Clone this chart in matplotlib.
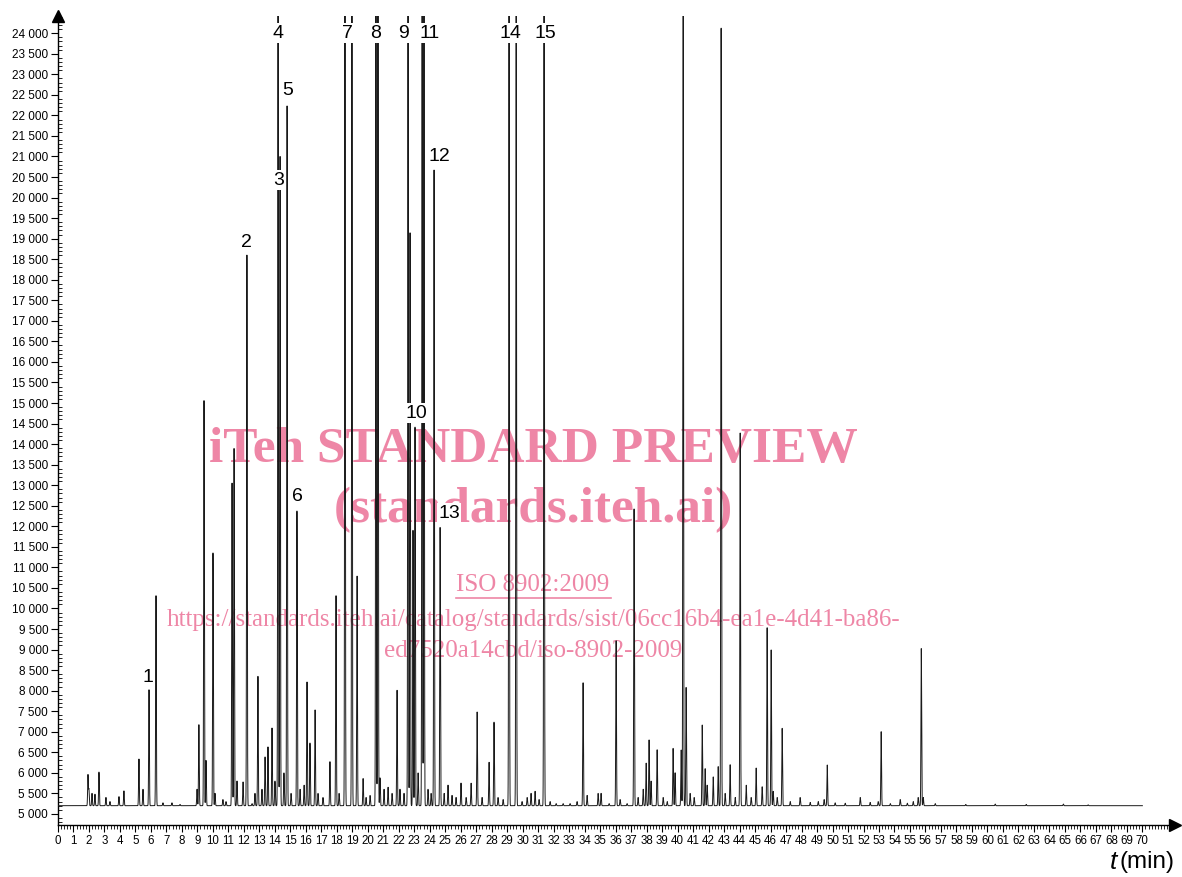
import numpy as np
import matplotlib.pyplot as plt
from matplotlib.ticker import MultipleLocator, FuncFormatter
from matplotlib.lines import Line2D

plt.rcParams['font.family'] = ['Liberation Sans', 'DejaVu Sans']

# ==============================
# Picos leídos del cromatograma: tiempo [min], altura [u.a.]
# ==============================
baseline = 5200
peak_t = [1.94, 2.00, 2.20, 2.39, 2.65, 3.10, 3.36, 3.94, 4.26, 5.23, 5.49, 5.88,
          6.33, 6.78, 7.36, 7.88, 8.98, 9.10, 9.43, 9.56, 10.01, 10.14, 10.65, 10.85,
          11.24, 11.37, 11.56, 11.95, 12.20, 12.53, 12.72, 12.91, 13.17, 13.37, 13.56,
          13.82, 14.01, 14.21, 14.34, 14.59, 14.79, 15.05, 15.43, 15.63, 15.89, 16.08,
          16.27, 16.60, 16.79, 17.11, 17.56, 17.95, 18.15, 18.53, 18.98, 19.31, 19.70,
          19.89, 20.15, 20.53, 20.66, 20.79, 21.05, 21.31, 21.57, 21.89, 22.08, 22.34,
          22.60, 22.73, 22.92, 23.05, 23.25, 23.51, 23.63, 23.89, 24.09, 24.28, 24.67,
          24.93, 25.18, 25.44, 25.70, 26.02, 26.35, 26.67, 27.06, 27.38, 27.83, 28.15,
          28.41, 28.74, 29.12, 29.58, 29.96, 30.29, 30.54, 30.80, 31.06, 31.38, 31.77,
          32.16, 32.61, 33.06, 33.51, 33.90, 34.16, 34.87, 35.06, 35.58, 36.03, 36.29,
          36.74, 37.19, 37.45, 37.78, 37.97, 38.16, 38.29, 38.68, 39.07, 39.33, 39.71,
          39.84, 40.23, 40.36, 40.55, 40.81, 41.07, 41.59, 41.78, 41.91, 42.30, 42.62,
          42.81, 43.07, 43.39, 43.72, 44.04, 44.43, 44.75, 45.07, 45.46, 45.78, 46.04,
          46.17, 46.43, 46.75, 47.27, 47.91, 48.56, 49.08, 49.46, 49.66, 50.17, 50.82,
          51.79, 52.43, 52.95, 53.14, 53.73, 54.37, 54.83, 55.21, 55.53, 55.73, 55.86,
          56.63, 58.60, 60.50, 62.50, 64.90, 66.50]
peak_h = [5950, 5600, 5500, 5480, 6020, 5400, 5300, 5420, 5560, 6340, 5600, 8020,
          10330, 5270, 5270, 5230, 5600, 7170, 15100, 6300, 11375, 5500, 5350, 5300,
          13050, 13930, 5800, 5780, 18600, 5250, 5500, 8360, 5600, 6390, 6630,
          7090, 5800, 26000, 21000, 6000, 22300, 5500, 12400, 5600, 5700, 8210,
          6730, 7530, 5500, 5400, 6270, 10330, 5500, 26000, 26000, 10810, 5860,
          5400, 5450, 26000, 26000, 5880, 5600, 5650, 5500, 8020, 5600, 5500,
          26000, 19200, 11900, 14450, 6000, 26000, 26000, 5600, 5500, 20670, 12000,
          5500, 5700, 5450, 5400, 5750, 5400, 5750, 7480, 5400, 6260, 7240,
          5400, 5350, 26000, 26000, 5300, 5400, 5500, 5550, 5350, 26000, 5300,
          5250, 5250, 5250, 5300, 8190, 5450, 5500, 5500, 5250, 9230, 5350,
          5250, 12450, 5400, 5600, 6240, 6800, 5800, 6560, 5400, 5300, 6600,
          6000, 6560, 26000, 8090, 5500, 5400, 7170, 6100, 5700, 5900, 6150,
          24200, 5500, 6200, 5400, 14270, 5700, 5400, 6120, 5660, 9530, 8990,
          5550, 5400, 7090, 5300, 5400, 5280, 5300, 5350, 6190, 5270, 5260,
          5400, 5280, 5300, 7000, 5250, 5350, 5260, 5300, 5400, 9040, 5400,
          5250, 5230, 5240, 5230, 5240, 5220]

# Etiquetas de los picos numerados (texto, t, altura)
lab_txt = ['1', '2', '3', '4', '5', '6', '7', '8', '9', '10', '11', '12', '13', '14', '15']
lab_t = [5.81, 12.14, 14.27, 14.21, 14.85, 15.43, 18.66, 20.53, 22.28, 23.12,
         24.02, 24.60, 25.25, 29.19, 31.45]
lab_y = [8310, 18917, 20425, 24002, 22615, 12713, 24002, 24002, 24002, 14756,
         24002, 21009, 12323, 24002, 24002]

# ==============================
# Señal
# ==============================
t = np.arange(0, 70.0001, 0.004)
signal = np.full_like(t, baseline, dtype=float)
w = 0.022
for tp, hp in zip(peak_t, peak_h):
    signal += (hp - baseline) * np.exp(-0.5 * ((t - tp) / w) ** 2)

fig = plt.figure(figsize=(11.82, 8.77), dpi=100)
ax = fig.add_axes([0.049, 0.0593, 0.945, 0.9225])

ax.plot(t, signal, color='#1a1a1a', lw=0.7, zorder=3)

ax.set_xlim(0, 72.1)
ax.set_ylim(4730, 24420)

for s in ['top', 'right']:
    ax.spines[s].set_visible(False)
for s in ['left', 'bottom']:
    ax.spines[s].set_linewidth(1.0)

ax.xaxis.set_minor_locator(MultipleLocator(0.2))
ax.yaxis.set_minor_locator(MultipleLocator(100))
ax.set_xticks(np.arange(0, 71, 1))
ax.set_yticks(np.arange(5000, 24001, 500))
ax.yaxis.set_major_formatter(FuncFormatter(lambda v, p: f"{int(v):,}".replace(',', ' ')))
ax.tick_params(axis='x', which='major', direction='out', length=5, width=0.8,
               labelsize=8.3, pad=2)
ax.tick_params(axis='x', which='minor', direction='out', length=3, width=0.6)
ax.tick_params(axis='y', which='major', direction='out', length=5, width=0.8,
               labelsize=8.5, pad=2)
ax.tick_params(axis='y', which='minor', direction='in', length=3, width=0.6)

# flechas de los ejes
ax.plot([1], [0], marker='>', color='k', markersize=9, transform=ax.transAxes, clip_on=False)
ax.plot([0], [1], marker='^', color='k', markersize=9, transform=ax.transAxes, clip_on=False)

for txt, x, y in zip(lab_txt, lab_t, lab_y):
    ax.text(x, y, txt, fontsize=14, ha='center', va='center', zorder=5,
            bbox=dict(facecolor='white', edgecolor='none', pad=1.0))

fig.text(0.9455, 0.017, "t", fontsize=19, ha='right', va='center', fontstyle='italic')
fig.text(0.994, 0.017, "(min)", fontsize=17.5, ha='right', va='center')

# ==============================
# Marca de agua
# ==============================
pink = '#ee86a6'
wm = dict(family='Liberation Serif', color=pink, ha='center', va='center',
          zorder=2, transform=fig.transFigure)
ax.text(0.451, 0.487, "iTeh STANDARD PREVIEW", fontsize=37, fontweight='bold', **wm)
ax.text(0.451, 0.418, "(standards.iteh.ai)", fontsize=37, fontweight='bold', **wm)
ax.text(0.451, 0.333, "ISO 8902:2009", fontsize=18, **wm)
ax.add_artist(Line2D([0.386, 0.517], [0.318, 0.318], color=pink, lw=1.2,
                     transform=fig.transFigure, zorder=2))
ax.text(0.451, 0.293, "https://standards.iteh.ai/catalog/standards/sist/06cc16b4-ea1e-4d41-ba86-",
        fontsize=18, **wm)
ax.text(0.451, 0.258, "ed7520a14cbd/iso-8902-2009", fontsize=18, **wm)

fig.savefig('out.png', dpi=100)
